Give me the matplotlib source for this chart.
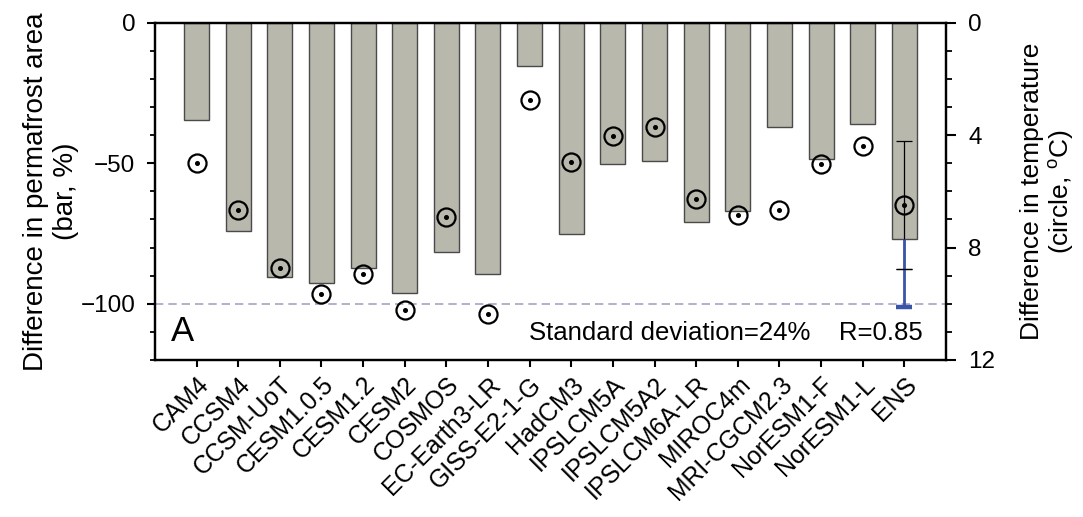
import matplotlib
matplotlib.use("Agg")
import matplotlib.pyplot as plt
from matplotlib.ticker import MultipleLocator
import numpy as np

plt.rcParams['font.family'] = ['Liberation Sans', 'DejaVu Sans']
plt.rcParams['mathtext.fontset'] = 'custom'
plt.rcParams['mathtext.rm'] = 'Liberation Sans'

models = ["CAM4", "CCSM4", "CCSM-UoT", "CESM1.0.5", "CESM1.2", "CESM2", "COSMOS",
          "EC-Earth3-LR", "GISS-E2-1-G", "HadCM3", "IPSLCM5A", "IPSLCM5A2",
          "IPSLCM6A-LR", "MIROC4m", "MRI-CGCM2.3", "NorESM1-F", "NorESM1-L", "ENS"]

# permafrost area change (%), bars
area_diff = [-34.6, -74.0, -90.4, -92.5, -87.2, -96.3, -81.6, -89.5, -15.4,
             -75.3, -50.3, -49.1, -70.8, -66.9, -37.1, -48.4, -36.2, -77.0]
# temperature change (degC), circles
temp_diff = [4.98, 6.65, 8.74, 9.65, 8.94, 10.23, 6.91, 10.35, 2.75,
             4.97, 4.03, 3.72, 6.28, 6.84, 6.66, 5.02, 4.39, 6.5]

ens_area_sd = 24.0
ens_temp_sd = 2.28

bar_color = "#b8b8ad"
blue = "#3a55a8"

def main():
    x = np.arange(len(models))
    fig = plt.figure(figsize=(10.83, 5.17), dpi=100)
    ax = fig.add_axes([0.143, 0.3037, 0.7305, 0.6523])
    ax2 = ax.twinx()

    ax.bar(x, area_diff, width=0.6, color=bar_color, edgecolor="#4a4a4a", linewidth=1.0, zorder=2)
    ax.axhline(-100, color="#a3a3c8", linestyle=(0, (5, 3)), linewidth=1.2, zorder=1)

    ax.set_xlim(-1, len(models))
    ax.set_ylim(-120, 0)
    ax.yaxis.set_major_locator(MultipleLocator(50))
    ax.yaxis.set_minor_locator(MultipleLocator(10))
    ax.set_xticks(x)
    ax.set_xticklabels(models, rotation=45, ha="right", rotation_mode="anchor", fontsize=17.8)
    ax.tick_params(axis="x", direction="out", length=5, width=1.5, pad=4)
    ax.tick_params(axis="y", which="major", direction="out", length=6, width=1.5, labelsize=17.5, pad=8)
    ax.tick_params(axis="y", which="minor", direction="out", length=3.5, width=1.3)
    ax.set_ylabel("Difference in permafrost area\n(bar, %)", fontsize=20, labelpad=1)

    # temperature on right axis
    ax2.set_ylim(12, 0)
    ax2.yaxis.set_major_locator(MultipleLocator(4))
    ax2.yaxis.set_minor_locator(MultipleLocator(1))
    ax2.tick_params(axis="y", which="major", direction="out", length=7, width=1.5, labelsize=17.5, pad=9)
    ax2.tick_params(axis="y", which="minor", direction="out", length=4, width=1.3)
    ax2.set_ylabel("Difference in temperature\n(circle, $^{\\rm o}$C)", fontsize=19,
                   labelpad=18, linespacing=1.1)

    # ensemble temperature spread (black)
    ax2.errorbar(x[-1], temp_diff[-1], yerr=ens_temp_sd, color="black", linewidth=0.9,
                 capsize=5.5, capthick=0.9, zorder=3)
    # ensemble area spread (blue, one sided downward)
    lo = area_diff[-1] - ens_area_sd
    ax2.vlines(x[-1], lo, area_diff[-1], colors=blue, linewidth=2.0,
               transform=ax.transData, zorder=4)
    ax2.plot([x[-1]], [lo], marker="_", markersize=12, markeredgewidth=3.2, color=blue,
             transform=ax.transData, zorder=4)
    ax2.plot([x[-1]], [temp_diff[-1] + ens_temp_sd], marker="_", markersize=11,
             markeredgewidth=0.9, color="black", zorder=5)

    ax2.plot(x, temp_diff, linestyle="none", marker="o", markersize=13, markerfacecolor="none",
             markeredgecolor="black", markeredgewidth=1.6, zorder=6)
    ax2.plot(x, temp_diff, linestyle="none", marker="o", markersize=2.6, color="black", zorder=7)

    for a in (ax, ax2):
        for s in a.spines.values():
            s.set_linewidth(1.6)

    ax.text(0.02, 0.055, "A", transform=ax.transAxes, fontsize=25)
    ax.text(0.97, 0.06, "Standard deviation=24%    R=0.85", transform=ax.transAxes,
            fontsize=18.5, ha="right")

    plt.savefig("out.png", dpi=100)

if __name__ == "__main__":
    main()
